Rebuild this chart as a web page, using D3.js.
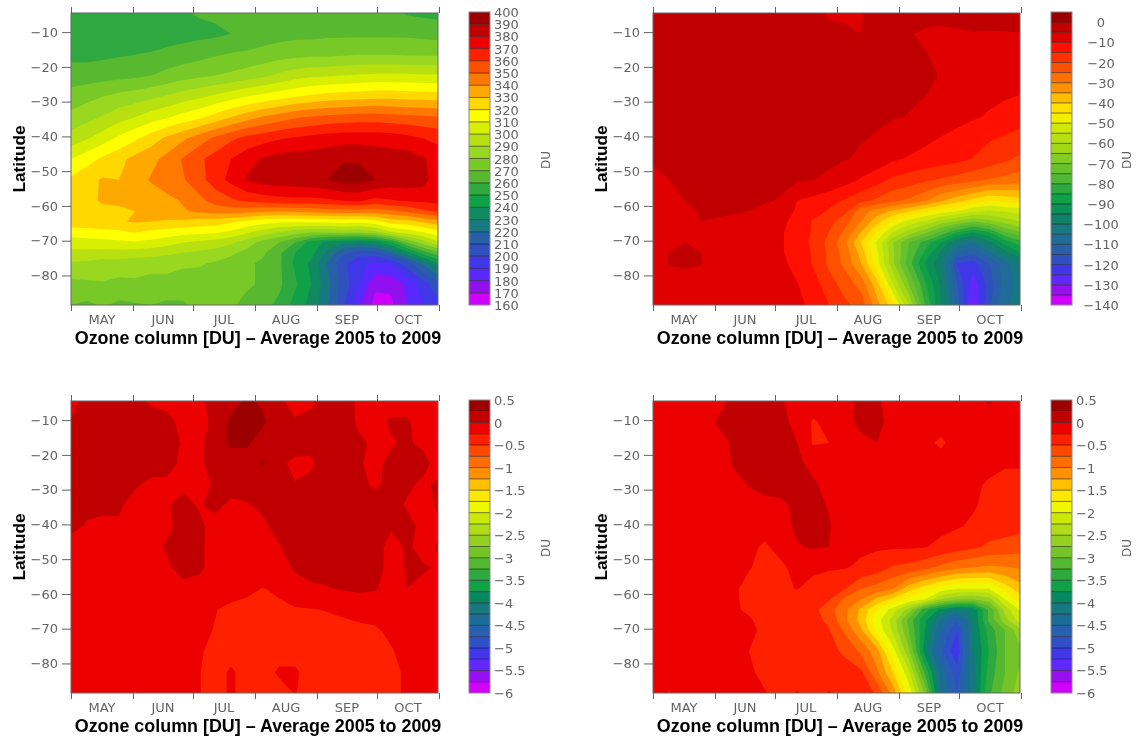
<!DOCTYPE html>
<html><head><meta charset="utf-8">
<style>html,body{margin:0;padding:0;background:#fff}svg{display:block;filter:blur(.35px)}</style>
<script src="https://cdn.jsdelivr.net/npm/d3@7/dist/d3.min.js"></script>
</head><body><svg id="c" width="1136" height="740"></svg>
<script>
const monthNames=["MAY","JUN","JUL","AUG","SEP","OCT"];
const monthStarts=[0,31,61,92,123,153,184];
const latTicks=[-10,-20,-30,-40,-50,-60,-70,-80];
const gridDays=[0,8,16,24,32,40,48,56,64,72,80,88,96,104,112,120,128,136,144,152,160,168,176,184];
const latsFine=[-4.5,-10.5,-16.5,-22.5,-28.5,-34.5,-40.5,-46.5,-52.5,-58.5,-61.5,-64.5,-67.5,-70.5,-73.5,-76.5,-82.5,-88.5];
const latsMid=[-4.5,-10.5,-16.5,-22.5,-28.5,-34.5,-40.5,-46.5,-52.5,-58.5,-61.5,-64.5,-67.5,-70.5,-76.5,-82.5,-88.5];
const latsCoarse=[-4.5,-10.5,-16.5,-22.5,-28.5,-34.5,-40.5,-46.5,-52.5,-58.5,-64.5,-70.5,-76.5,-82.5,-88.5];

const colors24=["#9c0000","#c00000","#ec0000","#ff2000","#ff5000","#ff7800","#ffa800","#ffd800","#ffff00","#d8f000","#b8e010","#98d820","#78c828","#58b830","#30a840","#10a048","#108860","#187880","#2860a8","#3050c0","#4038e8","#5828ff","#9010f0","#d000ff"];
const colors29=["#9c0000","#c00000","#e00000","#ff1000","#ff3000","#ff5000","#ff7000","#ff9000","#ffbc00","#ffe000","#f0f000","#d0e808","#b8e010","#a0d818","#84cc24","#68c02c","#50b834","#30a840","#10a048","#0c9058","#108068","#187880","#206c98","#2860a8","#3050c0","#4038e8","#6028ff","#9810f0","#d000ff"];
const colors26=["#9c0000","#c00000","#ec0000","#ff2000","#ff4800","#ff6c00","#ff9000","#ffc000","#ffe800","#eef800","#cce808","#b0dc18","#94d020","#74c428","#54b830","#30a840","#10a048","#088860","#187880","#1c6c98","#2860b0","#3050c8","#4038e8","#6028ff","#9810f0","#d000ff"];

const labels400=[400,390,380,370,360,350,340,330,320,310,300,290,280,270,260,250,240,230,220,210,200,190,180,170,160];
const labels0=[0,-10,-20,-30,-40,-50,-60,-70,-80,-90,-100,-110,-120,-130,-140];
const labelsHalf=[0.5,0,-0.5,-1,-1.5,-2,-2.5,-3,-3.5,-4,-4.5,-5,-5.5,-6];

const columnMean=[
[253,253,253,254,254,255,257,259,261,262,263,264,264,265,265,265,265,265,265,264,262,259,258,257],
[253,253,253,253,254,254,255,256,257,258,260,262,264,266,267,267,268,268,268,268,268,268,267,266],
[257,257,258,259,260,261,263,265,267,269,271,272,274,276,277,278,278,279,280,280,280,279,279,279],
[265,265,266,267,268,270,273,276,278,280,282,285,288,292,296,298,299,300,301,302,302,302,301,301],
[274,277,280,283,285,288,291,295,298,302,306,310,313,316,319,322,324,325,326,327,327,326,326,325],
[283,287,291,296,300,305,309,314,318,324,330,336,341,345,349,351,353,354,355,355,354,353,352,351],
[294,299,305,312,318,325,332,338,345,352,358,363,366,369,371,373,375,376,376,376,375,373,370,367],
[310,316,322,327,333,337,343,351,358,364,370,376,381,384,385,385,386,389,389,386,385,385,381,376],
[322,327,331,330,335,341,346,349,356,365,373,381,385,386,386,387,390,394,394,390,386,386,384,373],
[327,328,331,331,330,334,337,341,347,354,358,362,364,366,367,367,368,370,371,367,369,371,372,373],
[326,327,328,329,330,333,336,339,342,344,345,344,342,341,342,343,345,346,346,345,348,352,358,362],
[326,327,328,329,331,330,329,328,326,325,322,318,314,312,312,312,313,314,313,316,325,326,332,337],
[315,316,317,318,321,318,316,314,313,312,308,302,296,290,285,282,282,284,283,288,300,305,310,317],
[305,306,307,308,309,307,304,300,298,296,292,285,276,270,260,246,237,232,230,234,248,270,285,299],
[297,297,296,296,295,294,292,290,288,286,282,277,272,262,250,244,228,212,205,206,218,236,254,268],
[289,288,286,286,285,284,283,282,281,279,276,272,268,262,248,238,220,203,192,188,192,205,222,240],
[277,278,279,277,278,276,277,274,276,275,276,272,268,262,252,240,224,206,191,172,172,182,195,208],
[270,268,271,268,269,270,268,269,272,271,272,266,263,258,246,237,221,202,182,167,168,180,190,198]];

const columnAnomaly=[
[-3,-3,-3,-3,-3,-3,-3,-3,-3,-3,-3.5,-5.5,-5.5,-5.2,-4,-3.5,-3.5,-3.5,-3.5,-3.5,-3.5,-3.5,-3.5,-3.5],
[-3.5,-3.5,-3.5,-3.5,-3.5,-3.5,-3.5,-3.5,-3.5,-3.5,-3.5,-4,-4.5,-5,-4,-4,-4.8,-5.5,-6,-5.5,-5.2,-5.3,-5.2,-5.1],
[-3.5,-3.5,-3.5,-3.5,-3.5,-3.5,-3.5,-3.5,-3.5,-3.5,-3.5,-3.5,-3.5,-3.5,-4,-4,-4.2,-4.8,-5.8,-6.2,-6.3,-6.5,-6.7,-7],
[-3.5,-3.5,-3.5,-3.5,-3.5,-3.5,-3.5,-3.5,-3.5,-3.5,-3.5,-3.5,-3.5,-3.5,-4,-4,-4.2,-4.6,-5.1,-6.5,-7,-7.5,-8,-8.5],
[-3.5,-3.5,-3.5,-3.5,-3.5,-3.5,-3.5,-3.5,-3.5,-3.5,-3.5,-3.5,-3.5,-3.5,-4,-4.3,-4.7,-5,-6.5,-7.5,-8.3,-9,-9.6,-10.2],
[-3.5,-3.5,-3.5,-3.5,-3.5,-3.5,-3.5,-3.5,-3.5,-3.5,-3.5,-3.5,-4,-4.3,-4.6,-4.8,-5.1,-6,-7.3,-8.4,-9.5,-10.5,-11.8,-13],
[-3.5,-3.5,-3.5,-3.5,-3.5,-3.5,-3.5,-3.5,-3.5,-3.7,-3.9,-4.1,-4.5,-4.8,-5.2,-6.5,-7.5,-9,-10.2,-11.5,-13,-14.5,-15.5,-17],
[-4.5,-4.2,-3.8,-3.6,-3.6,-3.6,-3.6,-3.6,-3.6,-4,-4.3,-4.5,-4.8,-5.5,-7,-9.3,-10.5,-11.5,-12.5,-13.5,-15.2,-17,-19,-21],
[-6,-5,-4.3,-3.8,-3.7,-3.7,-3.8,-3.9,-4.1,-4.5,-4.9,-5.5,-8,-10.5,-13,-16,-17.5,-19,-20.5,-22,-23.5,-25.3,-26.5,-28],
[-6,-6,-5,-4.5,-4.2,-4.2,-4.3,-4.6,-5.3,-10,-11.5,-13.5,-15.5,-18.5,-21,-24,-26,-29.5,-34.5,-38,-41.5,-45,-43.5,-42],
[-6,-6,-5.5,-4.8,-4.7,-4.8,-5,-6,-8,-10.5,-13,-15.5,-18.5,-28,-32,-36,-40,-44,-47,-50,-54,-56,-54.5,-53],
[-6.5,-6.5,-6,-5,-5.2,-5.4,-6,-7.5,-9,-11.5,-15.5,-18.5,-23,-30,-38,-46,-52,-56,-62,-66,-70,-67,-63,-60],
[-6.5,-6.5,-5.5,-5.2,-5.5,-6,-7,-8,-9.5,-12,-15.5,-20,-26,-35,-45,-55,-62,-68,-76,-84,-90,-85,-75,-70],
[-6.5,-5.5,-5,-5.5,-6,-7,-7.5,-8.5,-9.5,-12.5,-16,-21.5,-29,-40,-51,-65,-75,-82,-90,-101,-105,-97,-88,-82],
[-6.5,-5,-4.9,-5,-6,-7,-8,-8.5,-9.5,-12,-15.5,-21,-27,-37,-49,-64,-76,-86,-96,-110,-114,-106,-97,-90],
[-6.5,-4.8,-4.8,-4.9,-6,-7,-8,-8.5,-9,-11.5,-15.5,-21,-26.5,-35,-48,-64,-78,-90,-99,-120,-122,-115,-107,-100],
[-7,-6.5,-5.5,-6,-6.5,-8,-8.5,-9,-9.5,-9.8,-12.5,-18,-22,-27,-38,-55,-70,-84,-96,-115,-128,-118,-108,-103],
[-7,-7,-7,-8,-7,-9,-8,-9,-9.5,-9.5,-10.5,-15,-19,-22,-33,-43,-60,-80,-95,-112,-131,-116,-106,-102]];

const trendA=[
[-.1,.1,.12,.12,.1,-.05,-.1,-.1,-.05,.08,.15,.3,.2,.05,-.1,-.05,.1,.12,-.05,-.1,-.1,-.1,-.1,-.1],
[.02,.12,.15,.15,.15,.14,.1,-.1,-.12,.08,.3,.32,.3,.05,.03,.08,.12,.14,-.05,-.08,.03,.03,-.1,-.1],
[.05,.15,.12,.12,.12,.12,.08,-.02,-.05,.1,.3,.3,.1,.12,.1,.05,.12,.12,.05,-.05,-.02,.03,-.05,-.1],
[.1,.12,.12,.1,.1,.1,.08,-.05,-.05,.1,.1,.1,.28,.05,-.05,-.03,.1,.12,.02,-.05,.05,.1,.08,-.1],
[.05,.1,.1,.08,.03,-.05,-.05,-.05,-.08,.03,.1,.1,.05,.03,.01,.05,.1,.1,.05,-.03,.05,.05,-.05,.05],
[.08,.05,.05,.03,-.08,-.1,-.02,.08,-.02,.06,-.05,-.02,.05,.12,.12,.12,.12,.12,.12,.1,.1,-.03,-.08,.03],
[.06,-.02,-.05,-.03,-.1,-.1,-.05,.08,.05,-.08,-.1,-.1,-.05,.1,.12,.14,.14,.14,.14,.14,.03,.1,-.08,-.02],
[-.1,-.1,-.1,-.1,-.1,-.08,.03,.12,.05,-.1,-.1,-.1,-.1,-.02,.1,.12,.12,.14,.14,.12,-.1,.03,-.06,.02],
[-.12,-.12,-.12,-.12,-.12,-.1,-.05,.12,.05,-.1,-.1,-.1,-.1,-.1,.03,.12,.12,.14,.14,.12,-.1,.02,.02,-.02],
[-.13,-.13,-.13,-.13,-.13,-.13,-.13,-.1,-.1,-.13,-.15,-.2,-.26,-.2,-.1,-.06,-.02,.02,.04,.02,-.1,0,-.05,-.1],
[-.14,-.14,-.14,-.14,-.14,-.14,-.14,-.14,-.17,-.24,-.3,-.32,-.33,-.31,-.27,-.26,-.24,-.2,-.17,-.15,-.13,-.13,-.13,-.13],
[-.15,-.15,-.15,-.2,-.15,-.15,-.15,-.15,-.2,-.26,-.32,-.33,-.33,-.33,-.33,-.33,-.33,-.33,-.3,-.28,-.2,-.15,-.14,-.14],
[-.15,-.15,-.15,-.22,-.15,-.2,-.15,-.15,-.22,-.32,-.33,-.33,-.33,-.33,-.33,-.33,-.33,-.33,-.33,-.33,-.27,-.17,-.14,-.14],
[-.15,-.15,-.15,-.2,-.15,-.22,-.15,-.15,-.24,-.33,-.22,-.33,-.33,-.22,-.22,-.33,-.33,-.33,-.33,-.33,-.33,-.2,-.14,-.14],
[-.15,-.15,-.15,-.15,-.26,-.15,-.15,-.15,-.24,-.33,-.22,-.33,-.33,-.33,-.24,-.33,-.33,-.33,-.33,-.33,-.33,-.2,-.14,-.14]];

const trendB=[
[-.2,-.1,-.2,-.2,-.1,.05,.1,.1,.05,-.2,-.15,-.15,-.05,.05,.05,-.15,-.2,-.15,-.1,-.15,-.15,.03,-.1,-.2],
[-.2,-.08,-.18,-.2,.02,.06,.1,.12,.1,-.1,-.27,-.2,-.05,.05,.08,-.1,-.2,-.22,-.2,-.15,-.15,-.1,-.15,-.2],
[-.18,-.08,-.15,-.18,-.1,.03,.1,.12,.12,0,-.27,-.25,-.1,-.05,0,-.1,-.2,-.22,-.27,-.2,-.18,-.2,-.2,-.2],
[-.2,-.18,-.2,-.2,-.15,.02,.08,.12,.1,.08,-.1,-.15,-.12,-.15,-.05,-.1,-.2,-.2,-.2,-.2,-.2,-.2,-.24,-.24],
[-.15,-.2,-.2,-.15,-.2,-.1,.02,.06,.1,.08,.05,-.1,-.15,-.2,-.15,-.1,-.2,-.2,-.2,-.2,-.22,-.27,-.28,-.28],
[-.2,-.2,-.2,-.05,-.15,-.2,-.15,-.05,-.05,.05,.08,-.02,-.15,-.2,-.2,-.15,-.2,-.2,-.2,-.2,-.23,-.3,-.32,-.35],
[-.2,-.2,-.2,-.1,-.2,-.22,-.2,-.2,-.12,.05,.08,.03,-.2,-.2,-.2,-.2,-.2,-.2,-.2,-.23,-.28,-.35,-.38,-.42],
[-.2,-.2,-.2,-.1,-.22,-.22,-.22,-.27,-.2,-.02,.02,0,-.2,-.22,-.22,-.22,-.22,-.24,-.3,-.38,-.45,-.55,-.6,-.65],
[-.2,-.2,-.2,-.2,-.2,-.22,-.24,-.3,-.28,-.2,-.2,-.22,-.24,-.28,-.38,-.53,-.58,-.68,-.83,-.95,-1.02,-1.05,-1.02,-.98],
[-.15,-.15,-.15,-.15,-.17,-.22,-.3,-.32,-.3,-.24,-.33,-.42,-.49,-.75,-.85,-1,-1.4,-1.65,-1.85,-2,-2,-2,-1.65,-1.35],
[-.15,-.15,-.15,-.15,-.15,-.22,-.3,-.32,-.32,-.33,-.38,-.47,-.8,-1,-1.3,-1.55,-1.8,-2,-2.5,-2.7,-2.75,-2.6,-2,-1.6],
[-.15,-.15,-.15,-.15,-.15,-.22,-.28,-.32,-.33,-.35,-.42,-.65,-.95,-1.3,-1.75,-2.1,-2.6,-3.4,-3.8,-4.1,-3.95,-3.2,-2.4,-1.95],
[-.15,-.15,-.15,-.15,-.15,-.17,-.23,-.31,-.33,-.36,-.42,-.55,-.95,-1.35,-1.9,-2.35,-3.1,-3.7,-4.3,-4.7,-4,-3.2,-2.6,-2.1],
[-.15,-.15,-.15,-.15,-.15,-.15,-.2,-.3,-.33,-.35,-.38,-.48,-.8,-1.2,-1.8,-2.3,-3,-3.75,-4.5,-5,-4,-3.4,-3,-2.55],
[-.15,-.15,-.15,-.15,-.15,-.15,-.25,-.3,-.32,-.35,-.4,-.42,-.55,-.8,-1.15,-1.9,-2.7,-3.9,-4.7,-5.2,-4.05,-3.5,-3,-2.8],
[-.15,-.15,-.15,-.15,-.15,-.15,-.22,-.3,-.32,-.33,-.35,-.35,-.38,-.45,-.95,-1.5,-2.2,-3.3,-4.35,-4.9,-4.1,-3.4,-3,-2.7],
[-.15,-.26,-.15,-.15,-.15,-.18,-.22,-.24,-.3,-.24,-.3,-.24,-.28,-.3,-.55,-1.1,-1.85,-2.8,-4.3,-4.75,-4.1,-3.3,-2.9,-2.6]];

const fmt=v=>String(v).replace("-","\u2212");
const panels=[
 {grid:columnMean,lats:latsFine,colors:colors24,top:400,bottom:160,labels:labels400,x:71,y:13,align:"start"},
 {grid:columnAnomaly,lats:latsFine,colors:colors29,top:5,bottom:-140,labels:labels0,x:653,y:13,align:"middle"},
 {grid:trendA,lats:latsCoarse,colors:colors26,top:.5,bottom:-6,labels:labelsHalf,x:71,y:401,align:"start"},
 {grid:trendB,lats:latsMid,colors:colors26,top:.5,bottom:-6,labels:labelsHalf,x:653,y:401,align:"start"}
];
const W=368,H=292,svg=d3.select("#c");
const INK="#636363";
const dayScale=d3.scaleLinear().domain([0,184]).range([0,W]);
const latScale=d3.scaleLinear().domain([-4.5,-88.5]).range([0,H]);
const idxDay=d3.scaleLinear().domain(d3.range(gridDays.length)).range(gridDays);
panels.forEach((p,i)=>{
 const idxLat=d3.scaleLinear().domain(d3.range(p.lats.length)).range(p.lats);
 const path=d3.geoPath(d3.geoTransform({point(c,r){this.stream.point(dayScale(idxDay(c-.5)),latScale(idxLat(r-.5)));}}));
 const g=svg.append("g").attr("transform",`translate(${p.x},${p.y})`);
 const id="clip"+i;
 g.append("clipPath").attr("id",id).append("rect").attr("width",W-1).attr("height",H);
 const n=p.colors.length, step=(p.top-p.bottom)/n;
 const thresholds=d3.range(n).map(k=>p.bottom+k*step);
 const cs=d3.contours().size([gridDays.length,p.lats.length]).thresholds(thresholds)(p.grid.flat());
 const plot=g.append("g").attr("clip-path",`url(#${id})`);
 plot.append("rect").attr("width",W).attr("height",H).attr("fill",p.colors[n-1]);
 plot.selectAll("path").data(cs).join("path").attr("d",path)
   .attr("fill",(d,k)=>p.colors[n-1-k]);
 g.append("rect").attr("width",W-1).attr("height",H).attr("fill","none").attr("stroke","#666").attr("stroke-width",1);
 const axB=d3.axisBottom(dayScale).tickValues(monthStarts).tickFormat("").tickSize(6).tickSizeOuter(0);
 const axT=d3.axisTop(dayScale).tickValues(monthStarts).tickFormat("").tickSize(6).tickSizeOuter(0);
 const axL=d3.axisLeft(latScale).tickValues(latTicks).tickFormat(fmt).tickSize(9).tickSizeOuter(0);
 [g.append("g").attr("transform",`translate(0,${H})`).call(axB),g.append("g").call(axT),g.append("g").call(axL)]
  .forEach(a=>{a.select(".domain").attr("stroke","none");a.selectAll("line").attr("stroke",INK);
   a.selectAll("text").attr("fill",INK).attr("font-family","DejaVu Sans").attr("font-size",13).attr("dx",-1);});
 monthNames.forEach((m,k)=>g.append("text").attr("x",dayScale((monthStarts[k]+monthStarts[k+1])/2)).attr("y",H+19)
  .attr("text-anchor","middle").attr("fill",INK).attr("font-family","DejaVu Sans").attr("font-size",13).text(m));
 g.append("text").attr("x",187).attr("y",H+39).attr("text-anchor","middle").attr("font-family","Liberation Sans").attr("font-weight","bold").attr("font-size",17.9).attr("fill","#000").text("Ozone column [DU] \u2013 Average 2005 to 2009");
 g.append("text").attr("transform",`translate(-46.5,${H/2}) rotate(-90)`).attr("text-anchor","middle").attr("font-family","Liberation Sans").attr("font-weight","bold").attr("font-size",17.3).attr("fill","#000").text("Latitude");
 const barH=H+1, bar=g.append("g").attr("transform","translate(398,-1)");
 const barScale=d3.scaleLinear().domain([p.top,p.bottom]).range([0,barH]);
 bar.selectAll("rect").data(p.colors).join("rect").attr("x",0).attr("width",21)
  .attr("y",(c,k)=>barScale(p.top-k*step)).attr("height",barH/n).attr("fill",c=>c);
 bar.selectAll("line.s").data(d3.range(1,n)).join("line").attr("class","s").attr("x1",0).attr("x2",21)
  .attr("y1",k=>barScale(p.top-k*step)).attr("y2",k=>barScale(p.top-k*step)).attr("stroke","#000").attr("stroke-opacity",.65).attr("stroke-width",.8);
 bar.append("rect").attr("width",21).attr("height",barH).attr("fill","none").attr("stroke","#888");
 bar.selectAll("text").data(p.labels).join("text").attr("x",p.align==="middle"?50:25).attr("y",v=>barScale(v)+5)
  .attr("text-anchor",p.align).attr("fill",INK).attr("font-family","DejaVu Sans").attr("font-size",13).text(fmt);
 g.append("text").attr("transform",`translate(${i%2?478:479},${H/2+1}) rotate(-90)`).attr("text-anchor","middle").attr("fill",INK).attr("font-family","DejaVu Sans").attr("font-size",12).text("DU");
});
</script></body></html>
